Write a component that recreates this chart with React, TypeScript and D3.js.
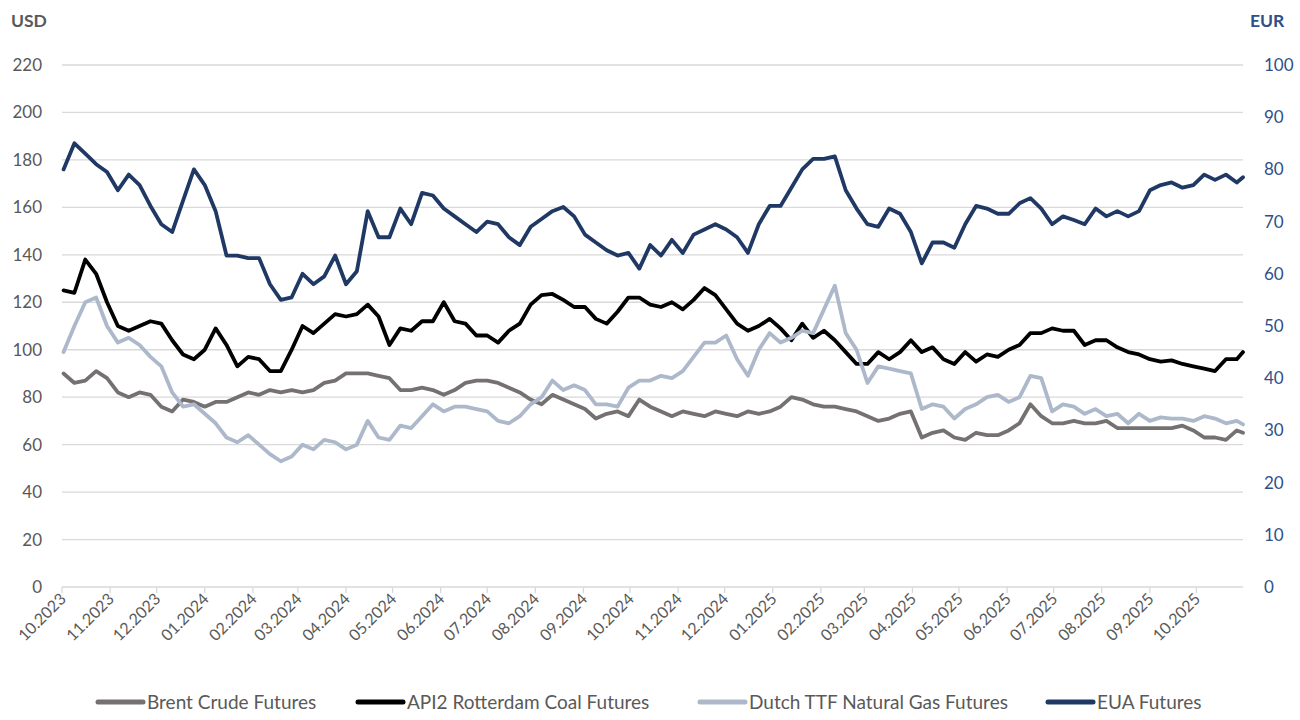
import { useEffect, useRef } from 'react'
import * as d3 from 'd3'

// weekly closes, first Monday of Oct 2023 onwards, last point = 31.10.2025
const brent = [
  90, 86, 87, 91, 88, 82, 80, 82, 81, 76, 74, 79, 78, 76, 78, 78, 80, 82, 81, 83,
  82, 83, 82, 83, 86, 87, 90, 90, 90, 89, 88, 83, 83, 84, 83, 81, 83, 86, 87, 87,
  86, 84, 82, 79, 77, 81, 79, 77, 75, 71, 73, 74, 72, 79, 76, 74, 72, 74, 73, 72,
  74, 73, 72, 74, 73, 74, 76, 80, 79, 77, 76, 76, 75, 74, 72, 70, 71, 73, 74, 63,
  65, 66, 63, 62, 65, 64, 64, 66, 69, 77, 72, 69, 69, 70, 69, 69, 70, 67, 67, 67,
  67, 67, 67, 68, 66, 63, 63, 62, 66, 65,
]
const coal = [
  125, 124, 138, 132, 120, 110, 108, 110, 112, 111, 104, 98, 96, 100, 109, 102, 93, 97, 96, 91,
  91, 100, 110, 107, 111, 115, 114, 115, 119, 114, 102, 109, 108, 112, 112, 120, 112, 111, 106, 106,
  103, 108, 111, 119, 123, 123.5, 121, 118, 118, 113, 111, 116, 122, 122, 119, 118, 120, 117, 121, 126,
  123, 117, 111, 108, 110, 113, 109, 104, 111, 105, 108, 104, 99, 94, 94, 99, 96, 99, 104, 99,
  101, 96, 94, 99, 95, 98, 97, 100, 102, 107, 107, 109, 108, 108, 102, 104, 104, 101, 99, 98,
  96, 95, 95.5, 94, 93, 92, 91, 96, 96, 99,
]
const ttf = [
  99, 110, 120, 122, 110, 103, 105, 102, 97, 93, 82, 76, 77, 73, 69, 63, 61, 64, 60, 56,
  53, 55, 60, 58, 62, 61, 58, 60, 70, 63, 62, 68, 67, 72, 77, 74, 76, 76, 75, 74,
  70, 69, 72, 77, 80, 87, 83, 85, 83, 77, 77, 76, 84, 87, 87, 89, 88, 91, 97, 103,
  103, 106, 96, 89, 100, 107, 103, 105, 108, 107, 117, 127, 107, 100, 86, 93, 92, 91, 90, 75,
  77, 76, 71, 75, 77, 80, 81, 78, 80, 89, 88, 74, 77, 76, 73, 75, 72, 73, 69, 73,
  70, 71.5, 71, 71, 70, 72, 71, 69, 70, 68.5,
]
const eua = [
  80, 85, 83, 81, 79.5, 76, 79, 77, 73, 69.5, 68, 74, 80, 77, 72, 63.5, 63.5, 63, 63, 58,
  55, 55.5, 60, 58, 59.5, 63.5, 58, 60.5, 72, 67, 67, 72.5, 69.5, 75.5, 75, 72.5, 71, 69.5, 68, 70,
  69.5, 67, 65.5, 69, 70.5, 72, 72.8, 71, 67.5, 66, 64.5, 63.5, 64, 61, 65.5, 63.5, 66.5, 64, 67.5, 68.5,
  69.5, 68.5, 67, 64, 69.5, 73, 73, 76.5, 80, 82, 82, 82.5, 76, 72.5, 69.5, 69, 72.5, 71.5, 68, 62,
  66, 66, 65, 69.5, 73, 72.5, 71.5, 71.5, 73.5, 74.5, 72.5, 69.5, 71, 70.3, 69.5, 72.5, 71, 72, 71, 72,
  76, 77, 77.5, 76.5, 77, 79, 78, 79, 77.5, 78.5,
]

const firstWeek = new Date(2023, 9, 2)
const lastDay = new Date(2025, 9, 31)
const dates = brent.map((_, i) => (i < brent.length - 1 ? d3.timeDay.offset(firstWeek, 7 * i) : lastDay))

const usdTicks = [0, 20, 40, 60, 80, 100, 120, 140, 160, 180, 200, 220]
const eurTicks = [0, 10, 20, 30, 40, 50, 60, 70, 80, 90, 100]

const seriesNames = [
  'Brent Crude Futures',
  'API2 Rotterdam Coal Futures',
  'Dutch TTF Natural Gas Futures',
  'EUA Futures',
]
const seriesColors = ['#767171', '#000000', '#adb9ca', '#203864']

export default function App() {
  const ref = useRef<SVGSVGElement>(null)

  useEffect(() => {
    if (!ref.current) return
    const W = 1300
    const H = 720
    const left = 62
    const right = 1243
    const top = 65
    const bottom = 587
    const font = 'Lato, "Open Sans", sans-serif'
    const grey = '#595959'
    const blue = '#2f4f8a'

    const svg = d3.select(ref.current)
    svg.selectAll('*').remove()
    svg.attr('width', W).attr('height', H).style('font-family', font)

    const x = d3.scaleTime().domain([new Date(2023, 9, 1), lastDay]).range([left, right])
    const yL = d3.scaleLinear().domain([0, 220]).range([bottom, top])
    const yR = d3.scaleLinear().domain([0, 100]).range([bottom, top])

    // gridlines
    svg.append('g')
      .selectAll('line')
      .data(usdTicks.filter((t) => t > 0))
      .join('line')
      .attr('x1', left)
      .attr('x2', right)
      .attr('y1', (d) => yL(d))
      .attr('y2', (d) => yL(d))
      .attr('stroke', '#d9d9d9')
      .attr('stroke-width', 1.3)

    // x axis line + ticks
    const months = d3.timeMonth.range(new Date(2023, 9, 1), new Date(2025, 10, 1))
    svg.append('line')
      .attr('x1', left).attr('x2', right)
      .attr('y1', bottom).attr('y2', bottom)
      .attr('stroke', '#d9d9d9').attr('stroke-width', 1.5)
    svg.append('g')
      .selectAll('line')
      .data(months)
      .join('line')
      .attr('x1', (d) => x(d)).attr('x2', (d) => x(d))
      .attr('y1', bottom).attr('y2', bottom + 6)
      .attr('stroke', '#d9d9d9').attr('stroke-width', 1.3)
    svg.append('g')
      .selectAll('text')
      .data(months)
      .join('text')
      .attr('transform', (d) => `translate(${x(d) + 5},${bottom + 13}) rotate(-45)`)
      .attr('text-anchor', 'end')
      .attr('font-size', 16)
      .attr('fill', grey)
      .text((d) => d3.timeFormat('%m.%Y')(d))

    // y axes labels
    svg.append('g')
      .selectAll('text')
      .data(usdTicks)
      .join('text')
      .attr('x', 42)
      .attr('y', (d) => yL(d) + 6)
      .attr('text-anchor', 'end')
      .attr('font-size', 17)
      .attr('fill', grey)
      .text((d) => d)
    svg.append('g')
      .selectAll('text')
      .data(eurTicks)
      .join('text')
      .attr('x', 1264)
      .attr('y', (d) => yR(d) + 6)
      .attr('font-size', 17)
      .attr('fill', blue)
      .text((d) => d)

    svg.append('text').attr('x', 11).attr('y', 27).attr('font-size', 17.5).attr('font-weight', 'bold')
      .attr('fill', grey).text('USD')
    svg.append('text').attr('x', 1250).attr('y', 27).attr('font-size', 17.5).attr('font-weight', 'bold')
      .attr('fill', blue).text('EUR')

    // lines
    const lineL = d3.line<number>().x((_, i) => x(dates[i])).y((d) => yL(d))
    const lineR = d3.line<number>().x((_, i) => x(dates[i])).y((d) => yR(d))
    const data = [brent, coal, ttf, eua]
    data.forEach((vals, k) => {
      svg.append('path')
        .datum(vals)
        .attr('d', k === 3 ? lineR : lineL)
        .attr('fill', 'none')
        .attr('stroke', seriesColors[k])
        .attr('stroke-width', 3.8)
        .attr('stroke-linejoin', 'round')
        .attr('stroke-linecap', 'round')
    })

    // legend
    const legendX = [98, 358, 700, 1048]
    const lg = svg.append('g')
    seriesNames.forEach((name, k) => {
      lg.append('line')
        .attr('x1', legendX[k]).attr('x2', legendX[k] + 45)
        .attr('y1', 702).attr('y2', 702)
        .attr('stroke', seriesColors[k]).attr('stroke-width', 5)
        .attr('stroke-linecap', 'round')
      lg.append('text')
        .attr('x', legendX[k] + 49)
        .attr('y', 709)
        .attr('font-size', 19)
        .attr('fill', grey)
        .text(name)
    })
  }, [])

  return (
    <svg
      ref={ref}
      style={{ position: 'absolute', left: 0, top: 0, display: 'block', background: '#fff' }}
    />
  )
}
